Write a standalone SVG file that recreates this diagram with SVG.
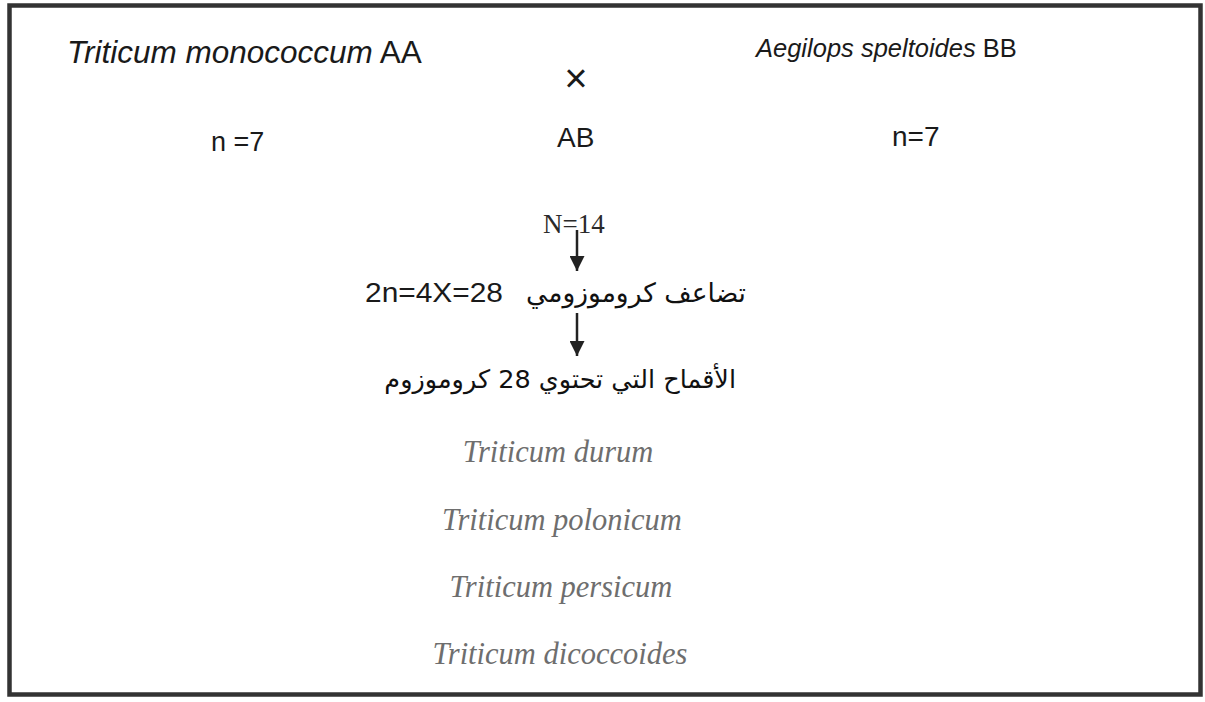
<svg xmlns="http://www.w3.org/2000/svg" width="1205" height="702" viewBox="0 0 1205 702">
<defs>
<style>
.sans{font-family:"Liberation Sans",Arial,sans-serif;fill:#1a1a1a}
.it{font-style:italic}
.serif{font-family:"Liberation Serif","Times New Roman",serif;fill:#2a2a2a}
.ar{font-family:"DejaVu Sans","Noto Sans",sans-serif;fill:#111}
.sp{font-family:"Liberation Serif","Times New Roman",serif;font-style:italic;fill:#6e6e6e}
.conn{stroke:#222;stroke-width:2.5;fill:none}
</style>
<marker id="ah" viewBox="0 0 10 10" refX="10" refY="5" markerWidth="6" markerHeight="6" orient="auto" markerUnits="strokeWidth">
<path d="M0,0 L10,5 L0,10 z" fill="#222"/>
</marker>
</defs>
<rect x="0" y="0" width="1205" height="702" fill="#fff"/>
<rect id="frame" x="9.5" y="5.5" width="1191" height="689" fill="none" stroke="#333" stroke-width="4.5"/>

<g id="parentA"><text class="sans" x="67" y="63" font-size="31.5"><tspan class="it">Triticum monococcum</tspan> AA</text></g>
<g id="parentB"><text class="sans" x="756" y="57" font-size="25.5"><tspan class="it">Aegilops speltoides</tspan> BB</text></g>
<g id="cross"><text class="sans" x="576" y="92" font-size="40" text-anchor="middle">×</text></g>
<g id="nA"><text class="sans" x="211" y="151" font-size="27">n =7</text></g>
<g id="hybrid"><text class="sans" x="557" y="147" font-size="28">AB</text></g>
<g id="nB"><text class="sans" x="892" y="146" font-size="28">n=7</text></g>
<g id="haploid"><text class="serif" x="543" y="233" font-size="27">N=14</text></g>
<g id="doubling">
<text class="sans" x="365" y="302" font-size="27" textLength="138" lengthAdjust="spacingAndGlyphs">2n=4X=28</text>
<text class="ar" x="746" y="302" font-size="26.5" text-anchor="start" direction="rtl">تضاعف كروموزومي</text>
</g>
<g id="result"><text class="ar" x="736" y="388" font-size="25.5" text-anchor="start" direction="rtl">الأقماح التي تحتوي 28 كروموزوم</text></g>
<g id="species">
<text class="sp" x="558" y="462" font-size="30.5" text-anchor="middle">Triticum durum</text>
<text class="sp" x="562" y="530" font-size="30.5" text-anchor="middle">Triticum polonicum</text>
<text class="sp" x="561" y="597" font-size="30.5" text-anchor="middle">Triticum persicum</text>
<text class="sp" x="560" y="664" font-size="30.5" text-anchor="middle">Triticum dicoccoides</text>
</g>
<g id="connectors">
<line class="conn" x1="577" y1="230" x2="577" y2="271" marker-end="url(#ah)"/>
<line class="conn" x1="577" y1="313" x2="577" y2="356" marker-end="url(#ah)"/>
</g>
</svg>
